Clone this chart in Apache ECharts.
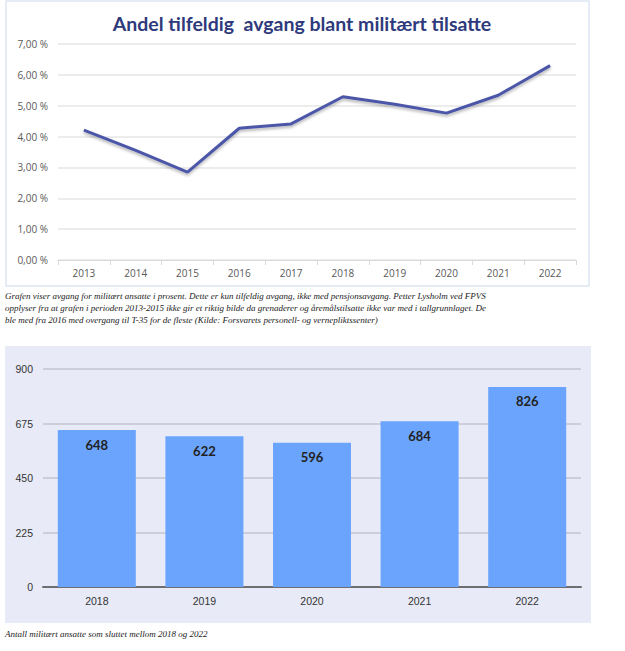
<!DOCTYPE html>
<html>
<head>
<meta charset="utf-8">
<script src="https://cdn.jsdelivr.net/npm/echarts@6/dist/echarts.min.js"></script>
<style>
  html, body { margin: 0; padding: 0; background: #fff; }
  #chart { width: 625px; height: 651px; }
</style>
</head>
<body>
<div id="chart"></div>
<script>
// top chart: share of random departures, percent
const lineYears = ["2013", "2014", "2015", "2016", "2017", "2018", "2019", "2020", "2021", "2022"];
const lineShare = [4.21, 3.55, 2.85, 4.27, 4.41, 5.29, 5.05, 4.76, 5.34, 6.3];

// bottom chart: military employees who left
const barYears = ["2018", "2019", "2020", "2021", "2022"];
const barCounts = [648, 622, 596, 684, 826];

const topTitle = "Andel tilfeldig  avgang blant militært tilsatte";
const topCaption = [
  "Grafen viser avgang for militært ansatte i prosent. Dette er kun tilfeldig avgang, ikke med pensjonsavgang. Petter Lysholm ved FPVS",
  "opplyser fra at grafen i perioden 2013-2015 ikke gir et riktig bilde da grenaderer og åremålstilsatte ikke var med i tallgrunnlaget. De",
  "ble med fra 2016 med overgang til T-35 for de fleste (Kilde: Forsvarets personell- og vernepliktssenter)"
];
const bottomCaption = "Antall militært ansatte som sluttet mellom 2018 og 2022";

const captionStyle = {
  fontFamily: "Liberation Serif",
  fontStyle: "italic",
  fontSize: 9,
  fill: "#222"
};

const chart = echarts.init(document.getElementById("chart"), null, { renderer: "svg" });
chart.setOption({
  animation: false,
  title: {
    text: topTitle,
    left: 297,
    top: 8,
    textAlign: "center",
    textStyle: { fontFamily: "Lato", fontWeight: "bold", fontSize: 19.5, color: "#2e3a7c" }
  },
  graphic: [
    {
      type: "rect", z: -10, silent: true,
      shape: { x: 6, y: 1, width: 583, height: 285 },
      style: { fill: "#fff", stroke: "#dde6f2", lineWidth: 1.5 }
    },
    {
      type: "rect", z: -10, silent: true,
      shape: { x: 5, y: 346, width: 586, height: 277 },
      style: { fill: "#e8ebf7" }
    },
    ...topCaption.map((t, i) => ({
      type: "text", silent: true,
      left: 5, top: 291 + i * 12,
      style: Object.assign({ text: t }, captionStyle)
    })),
    {
      type: "text", silent: true,
      left: 5, top: 629,
      style: Object.assign({ text: bottomCaption }, captionStyle)
    }
  ],
  grid: [
    { left: 58, right: 49, top: 44, bottom: 391 },
    { left: 43, right: 44, top: 369, bottom: 64 }
  ],
  xAxis: [
    {
      type: "category", gridIndex: 0, data: lineYears,
      axisLine: { lineStyle: { color: "#d9d9d9", width: 1 } },
      axisTick: { show: true, lineStyle: { color: "#d9d9d9" } },
      axisLabel: { color: "#595959", fontFamily: "Open Sans", fontSize: 10, margin: 8 }
    },
    {
      type: "category", gridIndex: 1, data: barYears,
      axisLine: { lineStyle: { color: "#6e6e72", width: 2 } },
      axisTick: { show: false },
      axisLabel: { color: "#333", fontFamily: "Liberation Sans", fontSize: 10.5, margin: 8 }
    }
  ],
  yAxis: [
    {
      type: "value", gridIndex: 0, min: 0, max: 7, interval: 1,
      axisLine: { show: false },
      axisTick: { show: false },
      splitLine: { lineStyle: { color: "#e6e6e6", width: 1.5 } },
      axisLabel: {
        color: "#595959", fontFamily: "Open Sans", fontSize: 10, margin: 10,
        formatter: v => v.toFixed(2).replace(".", ",") + " %"
      }
    },
    {
      type: "value", gridIndex: 1, min: 0, max: 900, interval: 225,
      axisLine: { show: false },
      axisTick: { show: false },
      splitLine: { lineStyle: { color: "#c4c5cf", width: 1.5 } },
      axisLabel: { color: "#333", fontFamily: "Liberation Sans", fontSize: 10.5, margin: 10 }
    }
  ],
  series: [
    {
      type: "line", xAxisIndex: 0, yAxisIndex: 0,
      data: lineShare,
      symbol: "none",
      lineStyle: {
        color: "#4b57a8", width: 3,
        shadowColor: "rgba(0,0,0,0.3)", shadowBlur: 3, shadowOffsetY: 2
      }
    },
    {
      type: "bar", xAxisIndex: 1, yAxisIndex: 1,
      data: barCounts,
      barWidth: "72.5%",
      itemStyle: { color: "#6ba4fd" },
      label: {
        show: true, position: "insideTop", distance: 8,
        color: "#222", fontFamily: "Lato", fontWeight: "bold", fontSize: 13
      }
    }
  ]
});
</script>
</body>
</html>
